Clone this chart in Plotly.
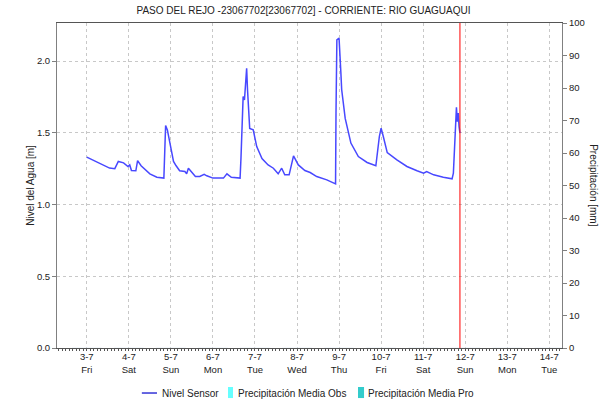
import plotly.graph_objects as go

TITLE = "PASO DEL REJO -23067702[23067702] - CORRIENTE: RIO GUAGUAQUI"

# water level readings (Nivel Sensor), metres
level_times = [
    "2020-07-03 00:00", "2020-07-03 13:00", "2020-07-03 16:00", "2020-07-03 18:00",
    "2020-07-03 21:00", "2020-07-03 23:30", "2020-07-04 00:30", "2020-07-04 01:30",
    "2020-07-04 04:00", "2020-07-04 05:00", "2020-07-04 07:00", "2020-07-04 12:00",
    "2020-07-04 16:00", "2020-07-04 20:00", "2020-07-04 20:30", "2020-07-04 21:00",
    "2020-07-04 22:00", "2020-07-04 23:30", "2020-07-05 01:30", "2020-07-05 03:00",
    "2020-07-05 05:00", "2020-07-05 08:00", "2020-07-05 09:00", "2020-07-05 10:00",
    "2020-07-05 12:00", "2020-07-05 14:00", "2020-07-05 16:30", "2020-07-05 19:00",
    "2020-07-05 20:30", "2020-07-06 00:00", "2020-07-06 06:00", "2020-07-06 08:00",
    "2020-07-06 10:30", "2020-07-06 15:30", "2020-07-06 16:00", "2020-07-06 16:45",
    "2020-07-06 17:15", "2020-07-06 18:00", "2020-07-06 18:45", "2020-07-06 19:15",
    "2020-07-06 19:45", "2020-07-06 21:00", "2020-07-06 23:00", "2020-07-07 01:00",
    "2020-07-07 04:00", "2020-07-07 07:30", "2020-07-07 10:30", "2020-07-07 13:15",
    "2020-07-07 15:15", "2020-07-07 17:00", "2020-07-07 19:30", "2020-07-07 22:00",
    "2020-07-08 00:45", "2020-07-08 04:30", "2020-07-08 07:30", "2020-07-08 11:15",
    "2020-07-08 17:00", "2020-07-08 20:00", "2020-07-08 22:00", "2020-07-08 22:15",
    "2020-07-08 22:45", "2020-07-09 00:00", "2020-07-09 00:30", "2020-07-09 01:00",
    "2020-07-09 01:30", "2020-07-09 03:30", "2020-07-09 06:45", "2020-07-09 11:00",
    "2020-07-09 16:00", "2020-07-09 21:00", "2020-07-09 23:00", "2020-07-10 00:00",
    "2020-07-10 01:15", "2020-07-10 03:30", "2020-07-10 09:00", "2020-07-10 14:45",
    "2020-07-10 20:30", "2020-07-11 00:15", "2020-07-11 02:00", "2020-07-11 06:00",
    "2020-07-11 11:30", "2020-07-11 16:30", "2020-07-11 17:15", "2020-07-11 18:00",
    "2020-07-11 18:45", "2020-07-11 19:00", "2020-07-11 19:30", "2020-07-11 20:00",
    "2020-07-11 20:30", "2020-07-11 21:00",
]
level_values = [
    1.33, 1.254, 1.25, 1.30,
    1.29, 1.265, 1.276, 1.237,
    1.235, 1.306, 1.27, 1.214,
    1.19, 1.184, 1.37, 1.55,
    1.52, 1.416, 1.30, 1.27,
    1.235, 1.23, 1.214, 1.253,
    1.223, 1.195, 1.195, 1.21,
    1.20, 1.184, 1.184, 1.214,
    1.19, 1.184, 1.32, 1.60,
    1.752, 1.729, 1.89, 1.95,
    1.80, 1.53, 1.52, 1.404,
    1.32, 1.276, 1.253, 1.214,
    1.253, 1.207, 1.207, 1.339,
    1.276, 1.237, 1.223, 1.195,
    1.172, 1.153, 1.144, 1.637,
    2.147, 2.159, 2.077, 1.926,
    1.80, 1.60, 1.428, 1.334,
    1.293, 1.27, 1.474, 1.532,
    1.474, 1.362, 1.311, 1.265,
    1.235, 1.219, 1.23, 1.207,
    1.19, 1.179, 1.219, 1.381,
    1.567, 1.678, 1.578, 1.637,
    1.543, 1.497,
]

# daily precipitation (none recorded in the window)
precip_days = ["2020-07-%02d" % d for d in range(3, 15)]
precip_obs = [0] * 12
precip_pro = [0] * 12

tick_days = ["2020-07-%02d" % d for d in range(3, 15)]
tick_text = [
    "3-7<br>Fri", "4-7<br>Sat", "5-7<br>Sun", "6-7<br>Mon", "7-7<br>Tue", "8-7<br>Wed",
    "9-7<br>Thu", "10-7<br>Fri", "11-7<br>Sat", "12-7<br>Sun", "13-7<br>Mon", "14-7<br>Tue",
]
now_marker = "2020-07-11 21:00"

LINE_BLUE = "#4848ff"
OBS_CYAN = "#66ffff"
PRO_TEAL = "#33cccc"
GRID = "#c8c8c8"
AXIS = "#808080"
FONT = "Liberation Sans, Arial, sans-serif"

fig = go.Figure()
fig.add_trace(go.Scatter(
    x=level_times, y=level_values, mode="lines", name="Nivel Sensor",
    line=dict(color=LINE_BLUE, width=1.5),
))
fig.add_trace(go.Bar(
    x=precip_days, y=precip_obs, name="Precipitación Media Obs",
    marker_color=OBS_CYAN, yaxis="y2",
))
fig.add_trace(go.Bar(
    x=precip_days, y=precip_pro, name="Precipitación Media Pro",
    marker_color=PRO_TEAL, yaxis="y2",
))

# "now" marker
fig.add_shape(type="line", x0=now_marker, x1=now_marker, y0=0, y1=1,
              xref="x", yref="paper", line=dict(color="#ff0000", width=1))

# hand-drawn legend below the chart (compact like the original)
legend_y = -0.1385
fig.add_shape(type="line", xref="paper", yref="paper", x0=0.168, x1=0.198,
              y0=legend_y, y1=legend_y, line=dict(color="#0000cc", width=1.2))
fig.add_shape(type="rect", xref="paper", yref="paper", x0=0.3386, x1=0.3485,
              y0=-0.154, y1=-0.12, line=dict(width=0), fillcolor=OBS_CYAN)
fig.add_shape(type="rect", xref="paper", yref="paper", x0=0.596, x1=0.608,
              y0=-0.154, y1=-0.12, line=dict(width=0), fillcolor=PRO_TEAL)

annotations = [
    dict(text="Nivel del Agua [m]", textangle=-90, x=-0.053, y=0.5, xanchor="center"),
    dict(text="Precipitación [mm]", textangle=90, x=1.062, y=0.5, xanchor="center"),
    dict(text="Nivel Sensor", x=0.204, y=legend_y, xanchor="left"),
    dict(text="Precipitación Media Obs", x=0.3545, y=legend_y, xanchor="left"),
    dict(text="Precipitación Media Pro", x=0.612, y=legend_y, xanchor="left"),
]
for a in annotations:
    a.update(xref="paper", yref="paper", yanchor="middle", showarrow=False,
             font=dict(size=10, color="#222222"))

fig.update_layout(
    width=607, height=403,
    paper_bgcolor="#ffffff", plot_bgcolor="#ffffff",
    font=dict(family=FONT, size=10, color="#222222"),
    margin=dict(l=57, r=45, t=23, b=55),
    title=dict(text=TITLE, x=0.5, xanchor="center", xref="container", y=0.973, yanchor="middle",
               font=dict(size=10, color="#222222")),
    showlegend=False,
    xaxis=dict(
        type="date", range=["2020-07-02 07:00", "2020-07-14 07:15"],
        tickmode="array", tickvals=tick_days, ticktext=tick_text,
        showgrid=True, gridcolor=GRID, griddash="dot", gridwidth=1,
        showline=True, linecolor="#555555", linewidth=1, mirror=True,
        ticks="", tickfont=dict(size=9.5), automargin=False,
        minor=dict(ticks="outside", ticklen=2, tickcolor="#555555", dtick=2 * 3600000, showgrid=False),
        zeroline=False,
    ),
    yaxis=dict(
        range=[0, 2.265], tickvals=[0, 0.5, 1.0, 1.5, 2.0], ticktext=["0.0", "0.5", "1.0", "1.5", "2.0"],
        showgrid=True, gridcolor=GRID, griddash="dot", gridwidth=1,
        showline=True, linecolor=AXIS, linewidth=1, mirror=False,
        ticks="outside", ticklen=4, tickcolor=AXIS, tickfont=dict(size=9.5),
        zeroline=False, automargin=False,
    ),
    yaxis2=dict(
        range=[0, 100], overlaying="y", side="right", dtick=10,
        showgrid=False, showline=True, linecolor=AXIS, linewidth=1,
        ticks="outside", ticklen=4, tickcolor=AXIS, tickfont=dict(size=9.5),
        zeroline=False, automargin=False,
    ),
    bargap=0.3,
    annotations=annotations,
)

fig.write_html("out.html", config={"displayModeBar": False},
               post_script="document.body.style.margin='0';")
